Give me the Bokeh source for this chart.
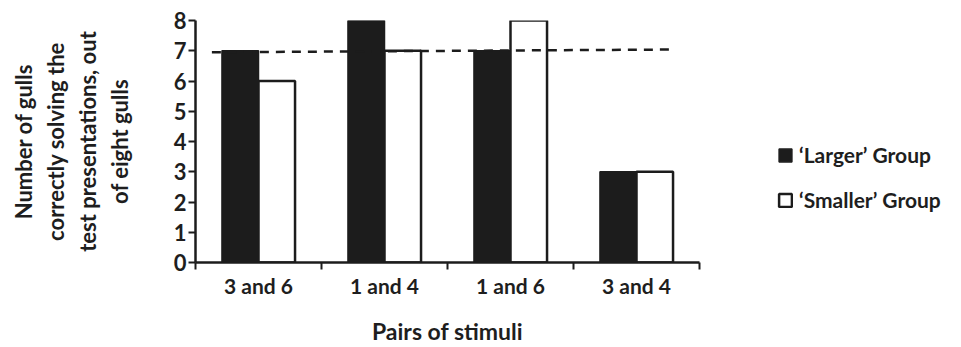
import numpy as np
from bokeh.plotting import figure
from bokeh.models import (ColumnDataSource, FixedTicker, Legend, LegendItem, Title, Range1d)
from bokeh.transform import dodge
from bokeh.embed import file_html
from bokeh.resources import INLINE

categories = ["3 and 6", "1 and 4", "1 and 6", "3 and 4"]
larger_group = [7, 8, 7, 3]
smaller_group = [6, 7, 8, 3]
series_names = ["\u2018Larger\u2019 Group", "\u2018Smaller\u2019 Group"]
y_ticks = [0, 1, 2, 3, 4, 5, 6, 7, 8]
trend_x = [0.13, 3.77]
trend_y = [6.95, 7.04]
y_title_lines = ["Number of gulls", "correctly solving the", "test presentations, out", "of eight gulls"]
x_title = "Pairs of stimuli"

FONT = "Lato"
TXT = "#1e1e1e"

pos = np.arange(len(categories)) + 0.5
source = ColumnDataSource(dict(x=pos, larger=larger_group, smaller=smaller_group))

p = figure(frame_width=504, frame_height=242, min_border_left=195, min_border_top=20,
           min_border_right=262, min_border_bottom=10,
           x_range=Range1d(0, len(categories)), y_range=Range1d(0, 8),
           output_backend="svg", toolbar_location=None)
p.outline_line_color = None
p.xgrid.visible = False
p.ygrid.visible = False

bw = 0.29
r1 = p.vbar(x=dodge("x", -bw / 2, range=p.x_range), top="larger", width=bw, source=source,
            fill_color="#1c1c1c", line_color="#1c1c1c", line_width=1.5)
r2 = p.vbar(x=dodge("x", bw / 2, range=p.x_range), top="smaller", width=bw, source=source,
            fill_color="white", line_color="#1c1c1c", line_width=2.5)

p.line(trend_x, trend_y, line_color="#1c1c1c", line_width=2.5, line_dash="9 7")

# y axis
ya = p.yaxis[0]
ya.ticker = FixedTicker(ticks=y_ticks)
ya.axis_line_width = 2.5
ya.axis_line_color = "#1c1c1c"
ya.major_tick_line_width = 2
ya.major_tick_line_color = "#1c1c1c"
ya.major_tick_out = 7
ya.major_tick_in = 0
ya.minor_tick_line_color = None
ya.major_label_text_font = FONT
ya.major_label_text_font_style = "bold"
ya.major_label_text_font_size = "22px"
ya.major_label_text_color = TXT
ya.major_label_standoff = 2

# x axis
xa = p.xaxis[0]
xa.ticker = FixedTicker(ticks=list(pos), minor_ticks=list(range(len(categories) + 1)))
xa.major_label_overrides = {float(v): c for v, c in zip(pos, categories)}
xa.axis_line_width = 2.5
xa.axis_line_color = "#1c1c1c"
xa.major_tick_line_color = None
xa.major_tick_out = 0
xa.major_tick_in = 0
xa.minor_tick_line_width = 2
xa.minor_tick_line_color = "#1c1c1c"
xa.minor_tick_out = 7
xa.minor_tick_in = 0
xa.major_label_text_font = FONT
xa.major_label_text_font_style = "bold"
xa.major_label_text_font_size = "21px"
xa.major_label_text_color = TXT
xa.major_label_standoff = 3
xa.axis_label = x_title
xa.axis_label_text_font = FONT
xa.axis_label_text_font_style = "bold"
xa.axis_label_text_font_size = "23px"
xa.axis_label_text_color = TXT
xa.axis_label_standoff = 16

# spacer between the y axis and the y title block
p.add_layout(Title(text=" ", text_font_size="22px", standoff=9, offset=0), "left")
# y title: four stacked rotated titles on the left (innermost first)
for t in reversed(y_title_lines):
    p.add_layout(Title(text=t, align="center", text_font=FONT, text_font_style="bold",
                       text_font_size="22px", text_color=TXT, standoff=3, offset=0), "left")

legend = Legend(items=[LegendItem(label=series_names[0], renderers=[r1]),
                       LegendItem(label=series_names[1], renderers=[r2])],
                location=(78, 50), orientation="vertical",
                glyph_width=16, glyph_height=16, label_height=20, spacing=20,
                padding=0, margin=0, border_line_color=None, background_fill_alpha=0,
                label_text_font=FONT, label_text_font_style="bold", label_text_font_size="21px",
                label_text_color=TXT, label_standoff=6)
p.add_layout(legend, "right")

open("out.html", "w").write(file_html(p, INLINE))
